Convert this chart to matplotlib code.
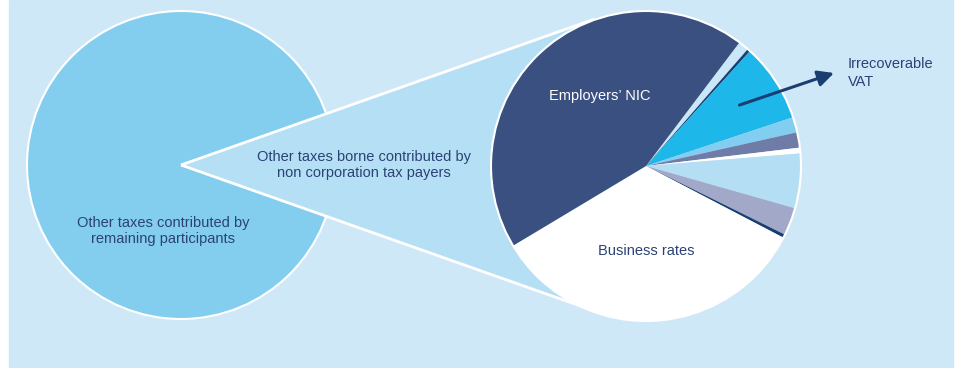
import numpy as np
import matplotlib
matplotlib.use("Agg")
import matplotlib.pyplot as plt
from matplotlib.patches import Rectangle, Circle, Polygon

plt.rcParams["font.family"] = ["Liberation Sans", "DejaVu Sans"]

# Доля прочих налогов: остальные участники / не плательщики налога на прибыль
left_labels = ["Other taxes contributed by\nremaining participants",
               "Other taxes borne contributed by\nnon corporation tax payers"]
left_values = [89.2, 10.8]

# Структура налогов не плательщиков налога на прибыль (по часовой стрелке)
right_labels = ["gap", "other1", "Irrecoverable VAT", "other2", "other3", "other4",
                "other5", "other6", "other7", "Business rates", "Employers' NIC"]
right_values = [1.1, 0.3, 8.2, 1.6, 1.6, 0.6, 5.7, 2.9, 0.35, 33.75, 43.9]
right_colors = ["#C9E7F7", "#1A3D72", "#1DB7E9", "#82CEF0", "#6F7CA7", "#FFFFFF",
                "#B4DEF4", "#A2A8C7", "#1A3D72", "#FFFFFF", "#3A5081"]

text_color = "#2B4275"
W, H = 957, 368

fig = plt.figure(figsize=(W / 100, H / 100), dpi=100)
ax = fig.add_axes([0, 0, 1, 1])
ax.set_xlim(0, W)
ax.set_ylim(0, H)
ax.axis("off")

# фон панели
ax.add_patch(Rectangle((9, 0), 944, H, color="#CFE8F8", zorder=0))

left_c = (181, 203)
left_r = 154
right_c = (646, 202)
right_r = 155

# левая круговая: выделенный сектор по центру справа
half = left_values[1] / sum(left_values) * 180
ax.pie(left_values, colors=["#83CDEF", "#B5DFF4"], center=left_c, radius=left_r,
       startangle=-half, counterclock=False,
       wedgeprops=dict(linewidth=0), frame=True)
ax.add_patch(Circle(left_c, left_r, fill=False, ec="white", lw=1.5, zorder=2))

# выноска от левого сектора к правой диаграмме
d = np.hypot(right_c[0] - left_c[0], right_c[1] - left_c[1])
L = np.sqrt(d ** 2 - right_r ** 2)
pts = [left_c]
for a in (half, -half):
    t = np.radians(a)
    pts.append((left_c[0] + L * np.cos(t), left_c[1] + L * np.sin(t)))
ax.add_patch(Polygon([pts[0], pts[1], right_c, pts[2]], closed=True,
                     fc="#B5DFF4", ec="none", zorder=3))
for p in pts[1:]:
    ax.plot([left_c[0], p[0]], [left_c[1], p[1]], color="white", lw=2,
            zorder=4, solid_capstyle="butt")

# правая круговая
wedges, _ = ax.pie(right_values, colors=right_colors, center=right_c, radius=right_r,
                   startangle=52.9, counterclock=False,
                   wedgeprops=dict(linewidth=0), frame=True)
for w in wedges:
    w.set_zorder(5)
ax.add_patch(Circle(right_c, right_r, fill=False, ec="white", lw=1.5, zorder=6))

ax.set_xlim(0, W)
ax.set_ylim(0, H)
ax.set_aspect("equal")
ax.axis("off")

fs = 10.5
ax.text(163, 137, left_labels[0], ha="center", va="center", fontsize=fs,
        color=text_color, linespacing=1.15, zorder=7)
ax.text(364, 203, left_labels[1], ha="center", va="center", fontsize=fs,
        color=text_color, linespacing=1.15, zorder=7)
ax.text(600, 272, "Employers\u2019 NIC", ha="center", va="center", fontsize=fs,
        color="white", zorder=7)
ax.text(646, 117, "Business rates", ha="center", va="center", fontsize=fs,
        color=text_color, zorder=7)
ax.text(848, 295, "Irrecoverable\nVAT", ha="left", va="center", fontsize=fs,
        color=text_color, linespacing=1.4, zorder=7)

# стрелка к сектору НДС
vat = wedges[2]
mid = np.radians((vat.theta1 + vat.theta2) / 2)
tail = (right_c[0] + 0.72 * right_r * np.cos(mid), right_c[1] + 0.72 * right_r * np.sin(mid))
ax.annotate("", xy=(834, 295), xytext=tail,
            arrowprops=dict(arrowstyle="-|>", color="#1A3D72", lw=2.2,
                            mutation_scale=24, shrinkA=0, shrinkB=0), zorder=8)

fig.savefig("out.png", dpi=100)
